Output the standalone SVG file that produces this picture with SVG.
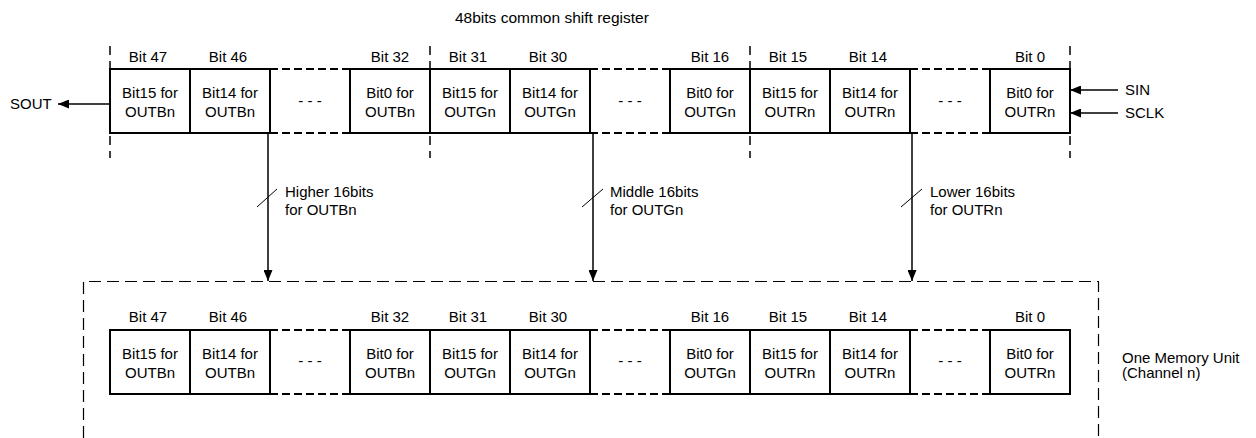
<svg xmlns="http://www.w3.org/2000/svg" width="1256" height="438" viewBox="0 0 1256 438">
<style>
text{font-family:"Liberation Sans",Arial,sans-serif;font-size:15px;fill:#000}
.c{text-anchor:middle}
.box{fill:none;stroke:#000;stroke-width:2}
.dl{stroke:#000;stroke-width:2;stroke-dasharray:8 4}
.sep{stroke:#000;stroke-width:1.5;stroke-dasharray:9 6}
.outer{fill:none;stroke:#000;stroke-width:1.2;stroke-dasharray:12 6}
.ln{stroke:#000;stroke-width:1.5;fill:none}
.tk{stroke:#000;stroke-width:1}
</style>
<defs>
<marker id="ah" viewBox="0 0 11 9" refX="11" refY="4.5" markerWidth="11" markerHeight="9" markerUnits="userSpaceOnUse" orient="auto">
<path d="M0,0 L11,4.5 L0,9 Z" fill="#000"/>
</marker>
</defs>
<rect width="1256" height="438" fill="#fff"/>
<text id="title" x="455" y="23" style="font-size:15.5px">48bits common shift register</text>

<g id="shift-register">
<g id="sr-b47"><text class="c" x="148" y="62">Bit 47</text><rect class="box" x="110" y="69" width="80" height="64"/><text class="c" x="150" y="98">Bit15 for</text><text class="c" x="150" y="117">OUTBn</text></g>
<g id="sr-b46"><text class="c" x="228" y="62">Bit 46</text><rect class="box" x="190" y="69" width="80" height="64"/><text class="c" x="230" y="98">Bit14 for</text><text class="c" x="230" y="117">OUTBn</text></g>
<g id="sr-d1"><line class="dl" x1="270" y1="69" x2="350" y2="69"/><line class="dl" x1="270" y1="133" x2="350" y2="133"/><text class="c" x="310" y="106">- - -</text></g>
<g id="sr-b32"><text class="c" x="390" y="62">Bit 32</text><rect class="box" x="350" y="69" width="80" height="64"/><text class="c" x="390" y="98">Bit0 for</text><text class="c" x="390" y="117">OUTBn</text></g>
<g id="sr-b31"><text class="c" x="468" y="62">Bit 31</text><rect class="box" x="430" y="69" width="80" height="64"/><text class="c" x="470" y="98">Bit15 for</text><text class="c" x="470" y="117">OUTGn</text></g>
<g id="sr-b30"><text class="c" x="548" y="62">Bit 30</text><rect class="box" x="510" y="69" width="80" height="64"/><text class="c" x="550" y="98">Bit14 for</text><text class="c" x="550" y="117">OUTGn</text></g>
<g id="sr-d2"><line class="dl" x1="590" y1="69" x2="670" y2="69"/><line class="dl" x1="590" y1="133" x2="670" y2="133"/><text class="c" x="630" y="106">- - -</text></g>
<g id="sr-b16"><text class="c" x="710" y="62">Bit 16</text><rect class="box" x="670" y="69" width="80" height="64"/><text class="c" x="710" y="98">Bit0 for</text><text class="c" x="710" y="117">OUTGn</text></g>
<g id="sr-b15"><text class="c" x="788" y="62">Bit 15</text><rect class="box" x="750" y="69" width="80" height="64"/><text class="c" x="790" y="98">Bit15 for</text><text class="c" x="790" y="117">OUTRn</text></g>
<g id="sr-b14"><text class="c" x="868" y="62">Bit 14</text><rect class="box" x="830" y="69" width="80" height="64"/><text class="c" x="870" y="98">Bit14 for</text><text class="c" x="870" y="117">OUTRn</text></g>
<g id="sr-d3"><line class="dl" x1="910" y1="69" x2="990" y2="69"/><line class="dl" x1="910" y1="133" x2="990" y2="133"/><text class="c" x="950" y="106">- - -</text></g>
<g id="sr-b0"><text class="c" x="1030" y="62">Bit 0</text><rect class="box" x="990" y="69" width="80" height="64"/><text class="c" x="1030" y="98">Bit0 for</text><text class="c" x="1030" y="117">OUTRn</text></g>
<g id="sr-separators">
<line class="sep" x1="110" y1="46" x2="110" y2="158"/>
<line class="sep" x1="430" y1="46" x2="430" y2="158"/>
<line class="sep" x1="750" y1="46" x2="750" y2="158"/>
<line class="sep" x1="1070" y1="46" x2="1070" y2="158"/>
</g>
</g>

<g id="memory-unit">
<path class="outer" d="M83.5,438 L83.5,281.5 L1098.5,281.5 L1098.5,438"/>
<text x="1122" y="363">One Memory Unit</text>
<text x="1122" y="378">(Channel n)</text>
<g id="mu-b47"><text class="c" x="148" y="322">Bit 47</text><rect class="box" x="110" y="330" width="80" height="64"/><text class="c" x="150" y="359">Bit15 for</text><text class="c" x="150" y="378">OUTBn</text></g>
<g id="mu-b46"><text class="c" x="228" y="322">Bit 46</text><rect class="box" x="190" y="330" width="80" height="64"/><text class="c" x="230" y="359">Bit14 for</text><text class="c" x="230" y="378">OUTBn</text></g>
<g id="mu-d1"><line class="dl" x1="270" y1="330" x2="350" y2="330"/><line class="dl" x1="270" y1="394" x2="350" y2="394"/><text class="c" x="310" y="366">- - -</text></g>
<g id="mu-b32"><text class="c" x="390" y="322">Bit 32</text><rect class="box" x="350" y="330" width="80" height="64"/><text class="c" x="390" y="359">Bit0 for</text><text class="c" x="390" y="378">OUTBn</text></g>
<g id="mu-b31"><text class="c" x="468" y="322">Bit 31</text><rect class="box" x="430" y="330" width="80" height="64"/><text class="c" x="470" y="359">Bit15 for</text><text class="c" x="470" y="378">OUTGn</text></g>
<g id="mu-b30"><text class="c" x="548" y="322">Bit 30</text><rect class="box" x="510" y="330" width="80" height="64"/><text class="c" x="550" y="359">Bit14 for</text><text class="c" x="550" y="378">OUTGn</text></g>
<g id="mu-d2"><line class="dl" x1="590" y1="330" x2="670" y2="330"/><line class="dl" x1="590" y1="394" x2="670" y2="394"/><text class="c" x="630" y="366">- - -</text></g>
<g id="mu-b16"><text class="c" x="710" y="322">Bit 16</text><rect class="box" x="670" y="330" width="80" height="64"/><text class="c" x="710" y="359">Bit0 for</text><text class="c" x="710" y="378">OUTGn</text></g>
<g id="mu-b15"><text class="c" x="788" y="322">Bit 15</text><rect class="box" x="750" y="330" width="80" height="64"/><text class="c" x="790" y="359">Bit15 for</text><text class="c" x="790" y="378">OUTRn</text></g>
<g id="mu-b14"><text class="c" x="868" y="322">Bit 14</text><rect class="box" x="830" y="330" width="80" height="64"/><text class="c" x="870" y="359">Bit14 for</text><text class="c" x="870" y="378">OUTRn</text></g>
<g id="mu-d3"><line class="dl" x1="910" y1="330" x2="990" y2="330"/><line class="dl" x1="910" y1="394" x2="990" y2="394"/><text class="c" x="950" y="366">- - -</text></g>
<g id="mu-b0"><text class="c" x="1030" y="322">Bit 0</text><rect class="box" x="990" y="330" width="80" height="64"/><text class="c" x="1030" y="359">Bit0 for</text><text class="c" x="1030" y="378">OUTRn</text></g>
</g>

<g id="io-labels">
<text x="10" y="109">SOUT</text>
<text x="1125" y="95">SIN</text>
<text x="1125" y="118">SCLK</text>
</g>

<g id="connectors">
<line class="ln" x1="110" y1="104" x2="58" y2="104" marker-end="url(#ah)"/>
<line class="ln" x1="1118" y1="90" x2="1070" y2="90" marker-end="url(#ah)"/>
<line class="ln" x1="1118" y1="113" x2="1070" y2="113" marker-end="url(#ah)"/>
<line class="ln" x1="268" y1="133" x2="268" y2="281" marker-end="url(#ah)"/>
<line class="ln" x1="593" y1="133" x2="593" y2="281" marker-end="url(#ah)"/>
<line class="ln" x1="912" y1="133" x2="912" y2="281" marker-end="url(#ah)"/>
<line class="tk" x1="257" y1="207" x2="277" y2="189"/>
<line class="tk" x1="582" y1="207" x2="603" y2="189"/>
<line class="tk" x1="901" y1="207" x2="922" y2="189"/>
<text x="285" y="197">Higher 16bits</text>
<text x="285" y="215">for OUTBn</text>
<text x="610" y="197">Middle 16bits</text>
<text x="610" y="215">for OUTGn</text>
<text x="930" y="197">Lower 16bits</text>
<text x="930" y="215">for OUTRn</text>
</g>
</svg>
